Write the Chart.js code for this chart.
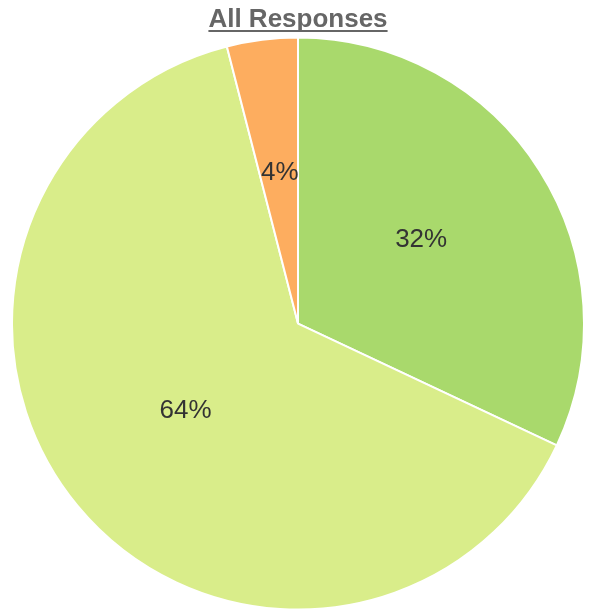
<!DOCTYPE html>
<html lang="en">
<head>
	<meta charset="utf-8">
	<title>All Responses</title>
	<script src="https://cdn.jsdelivr.net/npm/chart.js@4.4.0/dist/chart.umd.min.js"></script>
	<style>
		html, body { margin: 0; padding: 0; background: #fff; }
		#wrap { width: 593px; height: 613px; }
	</style>
</head>
<body>
	<div id="wrap"><canvas id="responses"></canvas></div>
	<script>
		const labels = ["Group A", "Group B", "Group C"];
		const values = [8, 16, 1];
		const sliceColors = ['#a9d96c', '#d9ed8a', '#fdad5f'];

		// percentage text inside each slice
		const sliceLabels = {
			id: 'sliceLabels',
			afterDatasetsDraw(chart) {
				const ctx = chart.ctx;
				const data = chart.data.datasets[0].data;
				const total = data.reduce((a, b) => a + b, 0);
				const size = 26;
				ctx.save();
				ctx.font = size + 'px "Liberation Sans", Arial, sans-serif';
				ctx.fillStyle = '#333';
				ctx.textAlign = 'center';
				ctx.textBaseline = 'alphabetic';
				chart.getDatasetMeta(0).data.forEach((arc, i) => {
					const mid = (arc.startAngle + arc.endAngle) / 2;
					const r = arc.outerRadius * 0.51;
					const x = arc.x + Math.cos(mid) * r;
					const y = arc.y + Math.sin(mid) * r - 8 + size * 0.358;
					ctx.fillText(Math.round(data[i] / total * 100) + '%', x, y);
				});
				ctx.restore();
			}
		};

		// underline beneath the title text
		const titleUnderline = {
			id: 'titleUnderline',
			afterDraw(chart) {
				const tb = chart.titleBlock;
				if (!tb) return;
				const ctx = chart.ctx;
				const text = chart.options.plugins.title.text;
				ctx.save();
				ctx.font = 'bold 26px "Liberation Sans", Arial, sans-serif';
				const w = ctx.measureText(text).width;
				const cx = (tb.left + tb.right) / 2;
				const y = tb.top + 4 + 15.6 + 11.5;
				ctx.strokeStyle = '#666';
				ctx.lineWidth = 2;
				ctx.beginPath();
				ctx.moveTo(cx - w / 2, y);
				ctx.lineTo(cx + w / 2, y);
				ctx.stroke();
				ctx.restore();
			}
		};

		new Chart(document.getElementById('responses'), {
			type: 'pie',
			data: {
				labels: labels,
				datasets: [{
					data: values,
					backgroundColor: sliceColors,
					borderColor: '#fff',
					borderWidth: 2
				}]
			},
			options: {
				responsive: true,
				maintainAspectRatio: false,
				animation: false,
				layout: { padding: { left: 11, right: 8, top: 0, bottom: 2 } },
				plugins: {
					legend: { display: false },
					tooltip: { enabled: false },
					title: {
						display: true,
						text: 'All Responses',
						color: '#666',
						font: { family: '"Liberation Sans", Arial, sans-serif', size: 26, weight: 'bold' },
						padding: { top: 4, bottom: 1 }
					}
				}
			},
			plugins: [sliceLabels, titleUnderline]
		});
	</script>
</body>
</html>
